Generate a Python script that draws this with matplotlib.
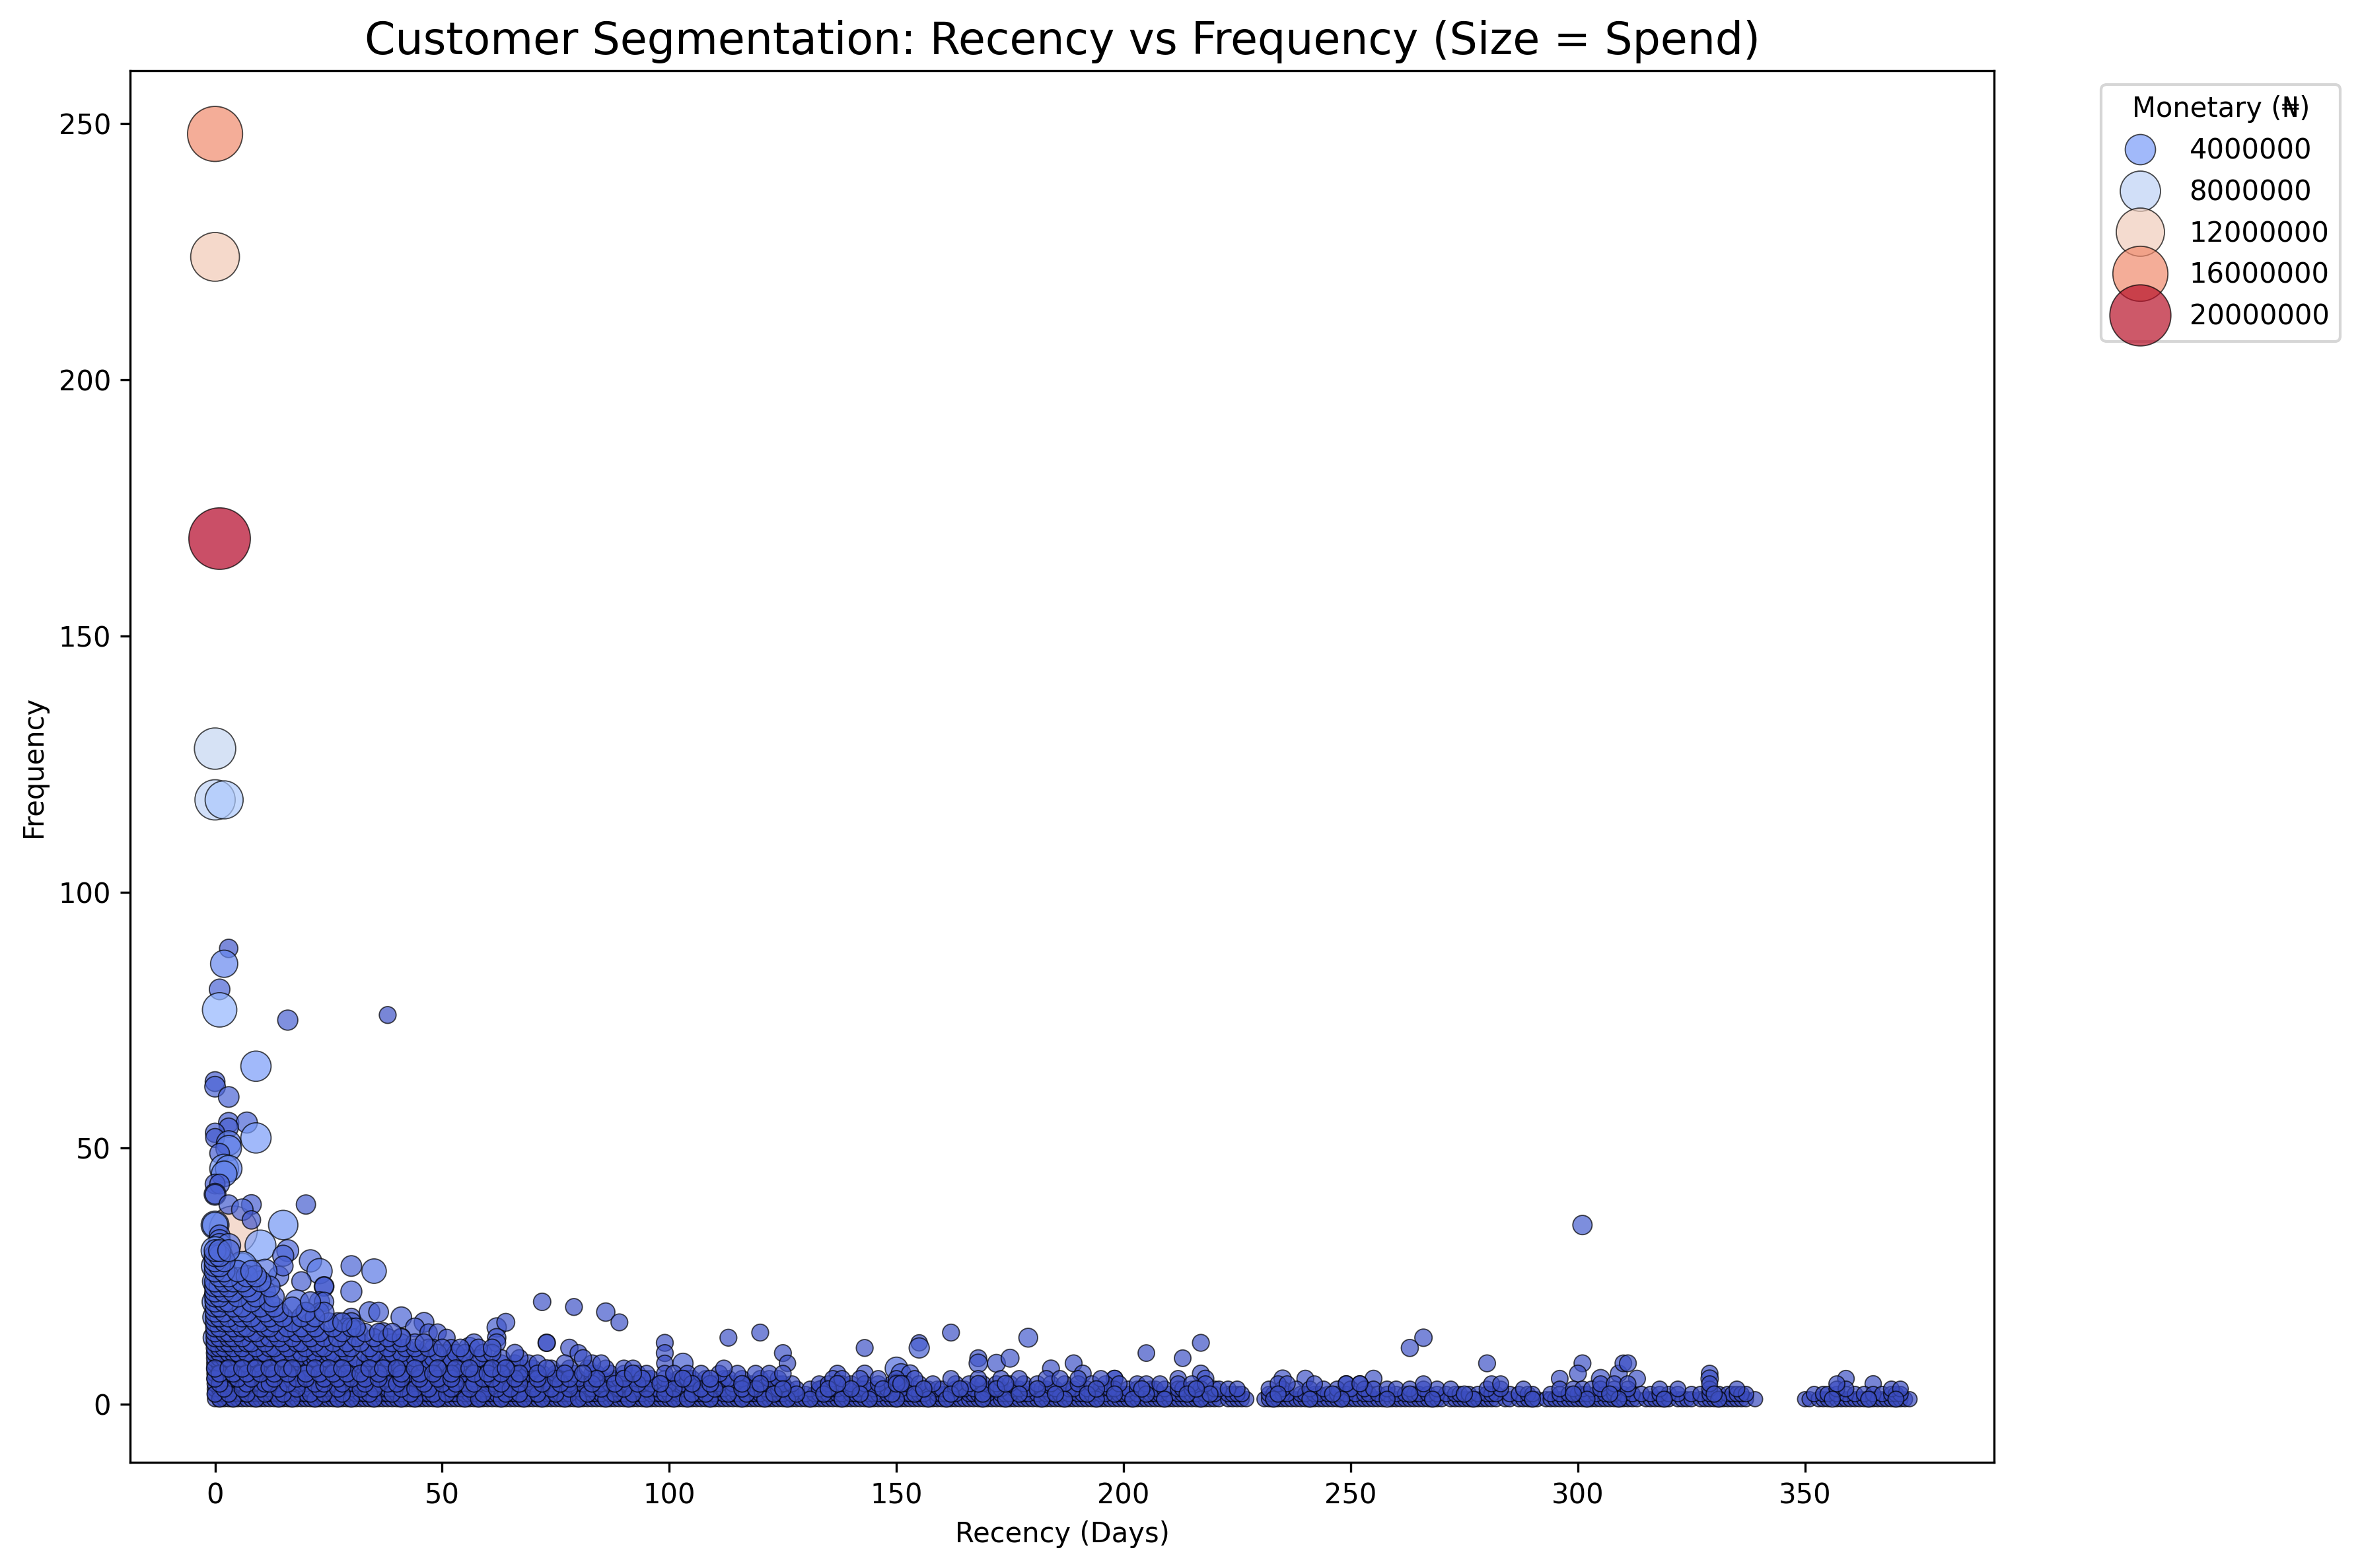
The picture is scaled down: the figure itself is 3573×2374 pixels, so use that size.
import pandas as pd
import seaborn as sns
import matplotlib.pyplot as plt

# customers
top_recency = [0, 0, 1, 0, 0, 2, 4, 3, 2, 1, 1, 16, 38, 9, 0, 0, 3, 3, 7, 3, 0, 9, 0, 3, 3, 1, 2, 3, 2, 0, 1, 0, 0, 3, 8, 6, 20, 8, 15, 0, 0, 1, 1, 10, 1, 3, 16, 15, 21, 23, 30, 35, 30, 24, 24, 19, 14, 15, 11, 6, 1, 2, 1, 0, 11, 7, 3, 18, 23, 24, 11, 0, 1, 20, 23, 9, 27, 30, 30, 29, 34, 36, 41, 46, 44, 47, 49, 51, 3, 14, 16, 15, 21, 25, 31, 37, 37, 41, 48, 51, 52, 56, 57, 62, 64, 62, 62, 72, 79, 86, 89, 73, 73, 78, 80, 99, 99, 99, 103, 45, 113, 120, 125, 126, 143, 155, 155, 162, 179, 168, 168, 172, 175, 205, 213, 217, 184, 189, 191, 150, 151, 153, 137, 143, 198, 198, 212, 217, 218, 235, 240, 301, 266, 263, 280, 301, 300, 296, 305, 309, 310, 311, 313, 329, 329, 255, 252, 249, 359, 365]
top_frequency = [248, 224, 169, 128, 118, 118, 34, 89, 86, 81, 77, 75, 76, 66, 63, 62, 60, 55, 55, 54, 53, 52, 52, 51, 50, 49, 46, 46, 45, 43, 43, 41, 41, 39, 39, 38, 39, 36, 35, 35, 35, 33, 32, 31, 31, 31, 30, 29, 28, 26, 27, 26, 22, 23, 23, 24, 25, 27, 26, 27, 27, 25, 24, 24, 22, 22, 22, 20, 20, 20, 19, 21, 19, 18, 18, 17, 16, 17, 16, 15, 18, 18, 17, 16, 15, 14, 14, 13, 16, 14, 16, 15, 14, 13, 14, 14, 12, 13, 11, 10, 11, 11, 12, 15, 16, 13, 12, 20, 19, 18, 16, 12, 12, 11, 10, 12, 10, 8, 8, 9, 13, 14, 10, 8, 11, 12, 11, 14, 13, 9, 8, 8, 9, 10, 9, 12, 7, 8, 6, 7, 6, 6, 6, 6, 5, 5, 5, 6, 5, 5, 5, 35, 13, 11, 8, 8, 6, 5, 5, 6, 8, 8, 5, 6, 5, 5, 4, 4, 5, 4]
top_monetary = [16000000, 12300000, 20300000, 8500000, 8000000, 7000000, 12000000, 700000, 3000000, 1200000, 5500000, 1100000, 400000, 4000000, 1000000, 1200000, 1200000, 1100000, 1300000, 900000, 900000, 4000000, 800000, 2200000, 2500000, 1000000, 3500000, 2800000, 2500000, 1000000, 1000000, 1500000, 1000000, 900000, 1000000, 1400000, 900000, 700000, 3700000, 3200000, 2500000, 1200000, 1400000, 4200000, 2000000, 2000000, 1500000, 1300000, 1600000, 2400000, 1200000, 2200000, 1300000, 1000000, 800000, 900000, 1100000, 1000000, 2000000, 2500000, 1500000, 1100000, 900000, 1000000, 1300000, 1400000, 1200000, 2000000, 1100000, 900000, 900000, 1500000, 900000, 800000, 800000, 700000, 900000, 600000, 900000, 800000, 1200000, 1000000, 1200000, 1000000, 800000, 500000, 500000, 400000, 2800000, 1200000, 1000000, 800000, 900000, 800000, 1900000, 1000000, 600000, 800000, 500000, 400000, 400000, 1300000, 600000, 900000, 600000, 700000, 600000, 500000, 400000, 700000, 400000, 500000, 400000, 500000, 400000, 400000, 400000, 300000, 1100000, 1800000, 400000, 400000, 400000, 300000, 400000, 300000, 1100000, 400000, 800000, 400000, 700000, 600000, 600000, 350000, 350000, 400000, 400000, 400000, 400000, 1700000, 1000000, 500000, 350000, 400000, 350000, 400000, 300000, 400000, 400000, 500000, 400000, 900000, 500000, 450000, 400000, 400000, 400000, 350000, 700000, 400000, 350000, 400000, 400000, 350000, 500000, 400000, 300000, 300000, 350000, 300000]

# larger spenders sitting inside the crowded corner
inner_recency = [0, 1, 0, 2, 6, 0, 1, 5, 0, 2, 4, 0, 1, 3, 7, 0, 2, 5, 10, 1, 4, 8, 13, 3, 6, 11, 17, 2, 9, 15, 21, 5, 12, 20, 28, 35, 8, 18, 27, 44, 62, 16, 33, 52, 75, 26, 69, 101, 118, 91, 134, 40, 150, 58, 86, 110]
inner_frequency = [30, 29, 27, 26, 27, 24, 22, 24, 20, 19, 21, 17, 15, 18, 19, 13, 12, 15, 16, 10, 11, 13, 14, 8, 9, 11, 12, 6, 7, 9, 10, 4, 5, 7, 8, 9, 3, 4, 5, 7, 6, 2, 3, 4, 5, 3, 4, 4, 3, 3, 3, 10, 4, 5, 4, 3]
inner_monetary = [3200000, 2600000, 3000000, 2200000, 3600000, 2400000, 2000000, 3000000, 2600000, 1800000, 2200000, 2200000, 2600000, 1900000, 2400000, 2000000, 1700000, 2500000, 2100000, 2300000, 1800000, 2200000, 2000000, 1900000, 2400000, 1700000, 1800000, 1600000, 2100000, 1900000, 1600000, 1800000, 1500000, 1700000, 1500000, 1400000, 1600000, 1300000, 1500000, 1700000, 1300000, 1200000, 1300000, 1500000, 1100000, 1200000, 1100000, 1000000, 800000, 900000, 800000, 2300000, 900000, 1300000, 1000000, 900000]

# the dense band, one list of recency days for each frequency
bulk_frequency = [1, 2, 3, 4, 5, 6, 7, 8, 9, 10, 11, 12, 13, 14, 15, 16, 17, 18, 19, 20, 21, 22, 23, 24, 25, 26, 27, 28, 29, 30, 1, 2, 3, 4, 5, 6, 7]
bulk_monetary = [80000, 130000, 180000, 230000, 280000, 320000, 360000, 400000, 450000, 500000, 550000, 600000, 650000, 700000, 800000, 850000, 900000, 1000000, 1050000, 1100000, 1150000, 1200000, 1250000, 1300000, 1350000, 1400000, 1400000, 1450000, 1450000, 1500000, 220000, 260000, 300000, 340000, 380000, 420000, 460000]
bulk_recency = [
    [0, 1, 2, 3, 4, 5, 6, 7, 8, 9, 10, 11, 12, 13, 14, 15, 16, 17, 18, 19, 20, 21, 22, 23, 24, 25, 26, 27, 28, 29, 30, 31, 32, 33, 34, 35, 36, 37, 38, 39, 40, 41, 42, 43, 44, 45, 46, 47, 48, 49, 50, 51, 52, 53, 54, 55, 56, 57, 58, 59, 60, 61, 62, 63, 64, 65, 66, 67, 68, 69, 70, 71, 72, 73, 74, 75, 76, 77, 78, 79, 80, 81, 82, 83, 84, 85, 86, 87, 88, 89, 90, 91, 92, 93, 94, 95, 96, 97, 98, 99, 100, 101, 102, 103, 104, 105, 106, 107, 108, 109, 110, 111, 112, 113, 114, 115, 116, 117, 118, 119, 120, 121, 122, 123, 124, 125, 126, 127, 128, 129, 130, 131, 132, 133, 134, 135, 136, 137, 138, 139, 140, 141, 142, 143, 144, 145, 146, 147, 148, 149, 150, 151, 152, 153, 154, 155, 156, 157, 158, 159, 160, 161, 162, 163, 164, 165, 166, 167, 168, 169, 170, 171, 172, 173, 174, 175, 176, 177, 178, 179, 180, 181, 182, 183, 184, 185, 186, 187, 188, 189, 190, 191, 192, 193, 194, 195, 196, 197, 198, 199, 200, 201, 202, 203, 204, 205, 206, 207, 208, 209, 210, 211, 212, 213, 214, 215, 216, 217, 218, 219, 220, 221, 223, 224, 225, 226, 227, 231, 232, 233, 234, 235, 236, 237, 238, 239, 240, 241, 242, 243, 244, 245, 246, 247, 248, 249, 250, 251, 252, 253, 254, 255, 256, 257, 259, 260, 261, 262, 263, 264, 265, 266, 267, 268, 269, 270, 272, 273, 274, 275, 276, 277, 278, 279, 280, 281, 282, 284, 285, 287, 288, 289, 290, 291, 293, 294, 295, 296, 297, 298, 299, 300, 301, 302, 303, 304, 305, 306, 307, 308, 309, 310, 311, 312, 313, 315, 316, 317, 318, 319, 320, 322, 323, 324, 325, 327, 328, 329, 330, 331, 332, 333, 334, 335, 336, 337, 339, 350, 351, 353, 354, 355, 357, 358, 359, 360, 361, 362, 363, 364, 365, 366, 367, 368, 369, 370, 371, 372, 373],
    [0, 1, 2, 3, 4, 5, 6, 7, 8, 9, 10, 12, 13, 14, 16, 18, 19, 20, 23, 24, 25, 26, 29, 31, 32, 33, 36, 37, 38, 40, 41, 44, 45, 46, 47, 50, 52, 53, 55, 56, 57, 60, 61, 62, 65, 66, 68, 69, 70, 73, 74, 76, 77, 78, 81, 83, 84, 85, 87, 89, 90, 93, 94, 96, 97, 98, 100, 102, 103, 106, 107, 109, 110, 112, 114, 115, 118, 119, 120, 122, 124, 125, 127, 130, 132, 133, 135, 137, 138, 140, 141, 144, 145, 146, 148, 151, 152, 153, 155, 156, 159, 160, 161, 163, 166, 167, 168, 170, 173, 174, 175, 178, 179, 181, 183, 184, 186, 188, 190, 191, 193, 195, 196, 199, 200, 201, 203, 206, 207, 208, 210, 212, 213, 215, 216, 218, 220, 223, 224, 225, 226, 232, 233, 235, 236, 239, 240, 242, 243, 245, 247, 249, 251, 253, 254, 256, 258, 260, 262, 264, 265, 267, 269, 271, 273, 274, 276, 278, 280, 281, 282, 285, 287, 289, 290, 294, 296, 298, 300, 301, 302, 304, 306, 308, 310, 312, 314, 316, 318, 320, 322, 325, 327, 329, 331, 333, 334, 335, 336, 337, 352, 354, 355, 357, 359, 361, 363, 365, 367, 369, 370, 371],
    [0, 1, 2, 3, 4, 5, 6, 7, 8, 9, 11, 12, 15, 16, 17, 20, 21, 24, 25, 26, 28, 30, 33, 34, 37, 38, 39, 42, 43, 45, 48, 49, 50, 53, 54, 57, 59, 60, 63, 64, 67, 68, 71, 72, 73, 76, 79, 80, 82, 83, 86, 88, 89, 92, 93, 96, 97, 99, 102, 103, 105, 108, 111, 112, 114, 117, 118, 121, 123, 124, 126, 128, 131, 133, 136, 137, 139, 142, 143, 145, 148, 150, 151, 154, 157, 159, 160, 163, 165, 167, 170, 171, 173, 176, 177, 179, 182, 183, 185, 188, 189, 192, 195, 197, 198, 201, 203, 206, 207, 209, 212, 213, 215, 217, 220, 221, 223, 225, 232, 235, 238, 241, 244, 247, 250, 253, 255, 258, 260, 263, 266, 269, 272, 280, 283, 288, 296, 299, 301, 303, 305, 308, 311, 318, 322, 329, 335, 357, 359, 369, 371],
    [0, 1, 2, 3, 4, 5, 6, 8, 9, 10, 13, 14, 17, 19, 20, 23, 25, 26, 29, 30, 32, 35, 36, 39, 41, 42, 45, 48, 49, 51, 54, 55, 58, 60, 61, 64, 65, 68, 70, 73, 74, 77, 78, 81, 84, 85, 87, 90, 91, 94, 96, 99, 100, 103, 106, 107, 110, 111, 114, 117, 118, 121, 124, 125, 127, 133, 135, 138, 140, 143, 146, 149, 152, 155, 158, 163, 166, 169, 172, 175, 178, 181, 184, 187, 190, 193, 196, 199, 203, 205, 208, 212, 215, 218, 234, 236, 242, 249, 252, 266, 281, 283, 305, 308, 311, 329, 357],
    [0, 1, 2, 3, 4, 6, 7, 9, 10, 12, 15, 16, 19, 21, 22, 25, 28, 29, 31, 34, 37, 38, 40, 43, 44, 47, 50, 51, 54, 56, 57, 60, 63, 64, 67, 69, 72, 73, 76, 79, 80, 83, 85, 88, 89, 92, 95, 96, 99, 102, 104, 105, 108, 112, 113, 116, 120, 122, 124, 136, 138, 142, 146, 150, 154, 162, 168, 173, 177, 183, 186, 190, 195],
    [0, 1, 2, 3, 5, 6, 8, 11, 12, 14, 17, 18, 21, 24, 25, 27, 30, 33, 34, 37, 39, 42, 43, 46, 49, 50, 53, 55, 58, 61, 62, 65, 68, 69, 72, 75, 76, 79, 83, 84, 87, 90, 93, 95, 99, 101, 104, 107, 111, 115, 119, 122, 125],
    [0, 1, 2, 4, 5, 7, 8, 10, 13, 14, 18, 20, 21, 24, 26, 29, 31, 32, 35, 38, 41, 42, 45, 47, 50, 52, 55, 58, 59, 62, 65, 68, 70, 74, 78, 82, 86, 90, 92, 112],
    [0, 1, 3, 4, 6, 7, 9, 12, 13, 16, 19, 20, 23, 25, 28, 30, 33, 36, 37, 40, 43, 46, 47, 51, 54, 57, 60, 63, 66, 69, 71, 77, 83, 85],
    [0, 1, 2, 3, 5, 6, 8, 11, 14, 15, 18, 21, 22, 24, 27, 31, 34, 35, 38, 42, 44, 48, 52, 55, 58, 63, 67, 81],
    [0, 1, 3, 4, 5, 7, 10, 11, 14, 17, 19, 22, 25, 26, 29, 33, 35, 39, 41, 45, 49, 53, 55, 59, 61, 66],
    [0, 1, 2, 4, 6, 9, 12, 13, 16, 20, 23, 24, 28, 30, 34, 38, 42, 44, 47, 50, 54, 58, 61],
    [0, 2, 3, 5, 7, 8, 11, 15, 18, 19, 22, 26, 29, 32, 36, 39, 41, 44, 46],
    [0, 1, 3, 4, 6, 10, 12, 14, 17, 21, 24, 27, 31, 35, 38, 41],
    [0, 2, 3, 5, 8, 9, 13, 15, 18, 20, 23, 28, 33, 36, 39],
    [0, 1, 4, 6, 7, 11, 12, 16, 19, 22, 26, 30, 31],
    [0, 2, 3, 5, 9, 10, 13, 17, 21, 25, 28],
    [0, 1, 3, 6, 8, 12, 15, 19, 22],
    [0, 2, 5, 7, 11, 14, 20, 24],
    [0, 1, 4, 6, 10, 13, 17],
    [0, 2, 3, 8, 12, 21],
    [0, 1, 5, 9, 13],
    [0, 2, 4, 8],
    [0, 1, 3, 7, 12],
    [0, 2, 4, 6, 10],
    [1, 3, 7, 9],
    [0, 2, 5, 8],
    [0, 1],
    [0, 2],
    [0, 1],
    [0, 1, 3],
    [1, 4, 9, 14, 17, 22, 27, 30, 35, 41, 44, 49, 55, 58, 63, 68, 72, 77, 80, 86, 91, 95, 101, 104, 109, 116, 121, 126, 131, 138, 144, 150, 157, 161, 169, 174, 182, 187, 194, 202, 209, 217, 233, 241, 248, 258, 268, 277, 290, 302, 309, 319, 331, 356, 364, 370],
    [0, 3, 7, 11, 15, 21, 24, 28, 34, 39, 43, 48, 51, 59, 64, 67, 71, 75, 82, 88, 92, 99, 105, 108, 113, 117, 123, 128, 134, 142, 149, 154, 162, 169, 177, 185, 192, 198, 205, 214, 219, 234, 246, 263, 275, 299, 307, 330],
    [2, 6, 10, 14, 18, 23, 27, 32, 35, 41, 44, 47, 52, 56, 62, 65, 70, 74, 78, 85, 90, 95, 101, 107, 110, 116, 119, 125, 135, 140, 147, 156, 164, 172, 181, 194, 204, 216],
    [1, 7, 11, 12, 16, 22, 24, 28, 33, 38, 40, 46, 50, 53, 57, 63, 67, 72, 76, 83, 88, 93, 98, 105, 109, 116, 120, 137, 150, 151, 168, 174],
    [0, 5, 8, 13, 18, 20, 24, 27, 30, 33, 36, 41, 45, 49, 52, 59, 61, 66, 71, 75, 78, 84, 90, 94, 103, 109],
    [1, 4, 7, 10, 13, 16, 20, 23, 26, 29, 32, 36, 41, 45, 48, 52, 57, 60, 63, 67, 71, 77, 81, 92],
    [0, 3, 6, 9, 12, 15, 17, 22, 25, 28, 34, 37, 40, 44, 49, 53, 56, 61, 64, 73],
]

recency = top_recency + inner_recency
frequency = top_frequency + inner_frequency
monetary = top_monetary + inner_monetary
for level, spend, days in zip(bulk_frequency, bulk_monetary, bulk_recency):
    for day in days:
        recency.append(day)
        frequency.append(level)
        monetary.append(spend)

rfm = pd.DataFrame({'Recency': recency, 'Frequency': frequency, 'Monetary': monetary})

plt.figure(figsize=(12, 8))
sns.scatterplot(data=rfm, x='Recency', y='Frequency', size='Monetary', hue='Monetary',
                palette='coolwarm', sizes=(30, 500), alpha=0.7, edgecolor='k')
plt.title('Customer Segmentation: Recency vs Frequency (Size = Spend)', fontsize=16)
plt.xlabel('Recency (Days)')
plt.ylabel('Frequency')
plt.legend(title='Monetary (₦)', bbox_to_anchor=(1.05, 1), loc='upper left')
plt.tight_layout()
plt.savefig('out.png', dpi=300, bbox_inches='tight')
